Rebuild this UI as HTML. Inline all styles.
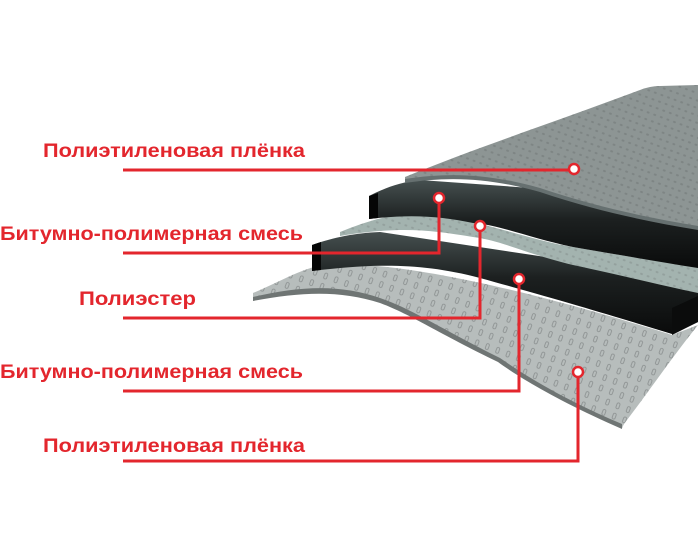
<!DOCTYPE html>
<html><head><meta charset="utf-8"><style>
html,body{margin:0;padding:0;background:#fff;}
svg{display:block}
text{font-family:"Liberation Sans","DejaVu Sans",sans-serif;font-weight:bold;fill:#e3262d;font-size:19px;}
</style></head><body>
<svg width="698" height="549" viewBox="0 0 698 549" xmlns="http://www.w3.org/2000/svg">
<defs>
<pattern id="dots" width="11" height="11" patternUnits="userSpaceOnUse" patternTransform="rotate(20)">
<rect x="3" y="2" width="3" height="6" rx="1.5" fill="none" stroke="#8a8f8f" stroke-width="0.8"/>
</pattern>
<pattern id="dots2" width="7" height="7" patternUnits="userSpaceOnUse" patternTransform="rotate(20)">
<rect x="2" y="2" width="3" height="2" rx="1" fill="#6e7474"/>
</pattern>
<linearGradient id="blk" x1="0" y1="0" x2="0" y2="1">
<stop offset="0" stop-color="#465050"/><stop offset="0.45" stop-color="#1c2020"/><stop offset="1" stop-color="#0a0b0b"/>
</linearGradient>
</defs>
<!-- bottom sheet -->
<g>
<path id="bs" d="M253,293 C280,282 305,266 330,264 C420,262 560,300 672,335 L698,325 C670,360 650,390 624,424 L622,428 C560,400 520,375 500,360 C440,330 410,310 380,300 C340,286 300,288 253,299 Z" fill="#b7bdbc"/>
<path d="M253,293 C280,282 305,266 330,264 C420,262 560,300 672,335 L698,325 C670,360 650,390 624,424 L622,428 C560,400 520,375 500,360 C440,330 410,310 380,300 C340,286 300,288 253,299 Z" fill="url(#dots)"/>
<path d="M253,297 C300,286 340,284 380,298 C410,308 440,328 500,358 C520,372 560,398 622,424 L622,429 C560,402 520,378 498,362 C440,334 410,314 380,303 C340,290 300,292 253,301 Z" fill="#6f7574"/>
</g>
<!-- lower black -->
<path d="M312,245 C335,237 355,233 380,232 L698,280 L698,322 L672,334 C620,318 560,300 480,278 C420,262 370,264 312,271 Z" fill="url(#blk)"/>
<path d="M312,245 L321,242 L321,270 L312,271 Z" fill="#050606"/>
<path d="M672,308 L698,296 L698,322 L672,335 Z" fill="#0b0c0c"/>
<!-- polyester -->
<path d="M340,232 C370,220 395,212 430,214 C480,220 530,240 573,247 C620,255 660,262 698,267 L698,293 C660,285 620,275 573,265 C530,255 500,240 473,237 C430,230 400,226 340,236 Z" fill="#a3b3af"/>
<path d="M340,232 C370,220 395,212 430,214 C480,220 530,240 573,247 C620,255 660,262 698,267 L698,293 C660,285 620,275 573,265 C530,255 500,240 473,237 C430,230 400,226 340,236 Z" fill="url(#dots2)" opacity="0.3"/>
<!-- upper black -->
<path d="M369,196 C385,188 400,182 420,180 L698,200 L698,268 C660,262 620,255 573,247 C530,238 500,225 473,223 C440,216 410,214 369,219 Z" fill="url(#blk)"/>
<path d="M369,196 L378,193 L378,218 L369,219 Z" fill="#050606"/>
<!-- top sheet -->
<path d="M405,177 C470,150 560,120 640,90 Q650,86 660,86 L698,85 L698,228 C650,220 600,210 540,190 C490,176 450,174 405,181 Z" fill="#8d9594"/>
<path d="M405,177 C470,150 560,120 640,90 Q650,86 660,86 L698,85 L698,228 C650,220 600,210 540,190 C490,176 450,174 405,181 Z" fill="url(#dots2)" opacity="0.5"/>
<path d="M405,179 C450,172 490,174 540,188 C600,208 650,218 698,226 L698,230 C650,222 600,212 540,192 C490,178 450,176 405,183 Z" fill="#667070"/>
<!-- labels -->
<text x="43" y="157" textLength="262" lengthAdjust="spacingAndGlyphs">Полиэтиленовая плёнка</text>
<text x="0" y="240" textLength="303" lengthAdjust="spacingAndGlyphs">Битумно-полимерная смесь</text>
<text x="79" y="305" textLength="117" lengthAdjust="spacingAndGlyphs">Полиэстер</text>
<text x="0" y="378" textLength="303" lengthAdjust="spacingAndGlyphs">Битумно-полимерная смесь</text>
<text x="43" y="452" textLength="262" lengthAdjust="spacingAndGlyphs">Полиэтиленовая плёнка</text>
<g fill="none" stroke="#e3262d" stroke-width="3">
<path d="M123,170 H574"/>
<path d="M123,253 H439 V198"/>
<path d="M123,318 H480 V226"/>
<path d="M123,391 H519 V279"/>
<path d="M123,461 H578 V372"/>
</g>
<g fill="#fff" stroke="#e3262d" stroke-width="2.5">
<circle cx="574" cy="169" r="5"/>
<circle cx="439" cy="198" r="5"/>
<circle cx="480" cy="226" r="5"/>
<circle cx="519" cy="279" r="5"/>
<circle cx="578" cy="372" r="5"/>
</g>
</svg>
</body></html>
